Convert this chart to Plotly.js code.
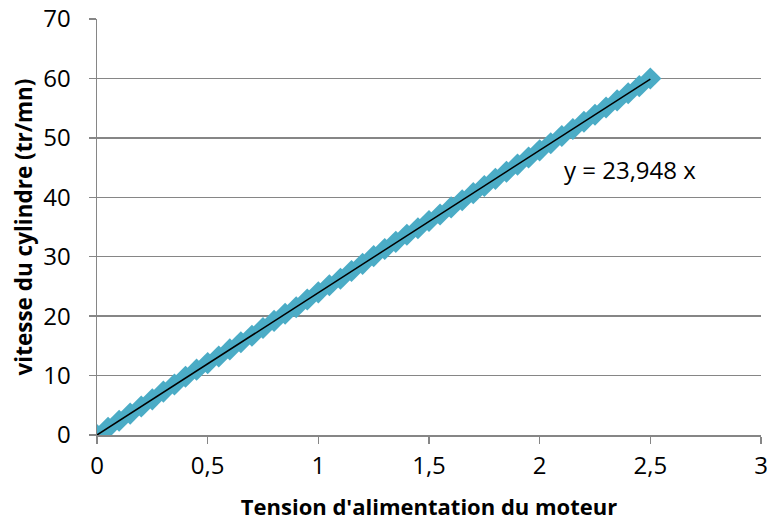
<!DOCTYPE html>
<html>
<head>
<meta charset="utf-8">
<script src="https://cdn.plot.ly/plotly-3.0.1.min.js"></script>
<style>html,body{margin:0;padding:0;background:#fff;}#chart{width:767px;height:521px;}</style>
</head>
<body>
<div id="chart"></div>
<script>
const tension = [0,0.05,0.1,0.15,0.2,0.25,0.3,0.35,0.4,0.45,0.5,0.55,0.6,0.65,0.7,0.75,0.8,0.85,0.9,0.95,1.0,1.05,1.1,1.15,1.2,1.25,1.3,1.35,1.4,1.45,1.5,1.55,1.6,1.65,1.7,1.75,1.8,1.85,1.9,1.95,2.0,2.05,2.1,2.15,2.2,2.25,2.3,2.35,2.4,2.45,2.5];
const vitesse = [0,1.2,2.4,3.6,4.8,6.0,7.3,8.5,9.8,11.0,12.1,13.2,14.4,15.6,16.7,18.0,19.2,20.4,21.5,22.8,24.0,25.2,26.3,27.6,28.8,30.1,31.3,32.5,33.7,34.8,36.0,37.1,38.3,39.5,40.7,41.9,43.1,44.3,45.5,46.7,47.9,49.1,50.3,51.5,52.7,53.9,55.1,56.3,57.5,58.7,60.0];
const slope = 23.948;
const trendX = [0, 2.5];
const trendY = trendX.map(v => slope * v);
const xTicks = [0,0.5,1,1.5,2,2.5,3];
const xTickText = ["0","0,5","1","1,5","2","2,5","3"];
const yTicks = [0,10,20,30,40,50,60,70];

const font = "Open Sans, Liberation Sans, sans-serif";
const traces = [
  {x: tension, y: vitesse, type: 'scatter', mode: 'markers',
   marker: {symbol: 'diamond', size: 17, color: '#4BACC6'}, showlegend: false, hoverinfo: 'x+y'},
  {x: trendX, y: trendY, type: 'scatter', mode: 'lines',
   line: {color: '#000000', width: 1.5}, showlegend: false}
];
const layout = {
  width: 767, height: 521,
  margin: {l: 97, r: 6, t: 19, b: 86},
  paper_bgcolor: '#fff', plot_bgcolor: '#fff',
  separators: ', ',
  font: {family: font, size: 24, color: '#000'},
  xaxis: {range: [0, 3], tickvals: xTicks, ticktext: xTickText, showgrid: false, zeroline: false,
    showline: true, linecolor: '#868686', linewidth: 1.5, ticks: 'outside', ticklen: 7, tickcolor: '#868686', tickwidth: 1.5,
    tickfont: {family: font, size: 24}, ticklabelstandoff: 2, ticklabeloverflow: 'allow',
    title: {text: "Tension d'alimentation du moteur", font: {family: font, size: 22, weight: 'bold'}, standoff: 19}},
  yaxis: {range: [0, 70], tickvals: yTicks, showgrid: true, gridcolor: '#868686', gridwidth: 1.5, zeroline: false,
    showline: true, linecolor: '#868686', linewidth: 1.5, ticks: 'outside', ticklen: 7, tickcolor: '#868686', tickwidth: 1.5,
    tickfont: {family: font, size: 24}, ticklabelstandoff: 13, ticklabeloverflow: 'allow',
    title: {text: "vitesse du cylindre (tr/mn)", font: {family: font, size: 22.5, weight: 'bold'}, standoff: 4}},
  annotations: [{x: 2.41, y: 44.6, xref: 'x', yref: 'y', text: 'y = 23,948 x', showarrow: false,
    font: {family: font, size: 24, color: '#000'}}]
};
Plotly.newPlot('chart', traces, layout, {displayModeBar: false, staticPlot: true});
</script>
</body>
</html>
